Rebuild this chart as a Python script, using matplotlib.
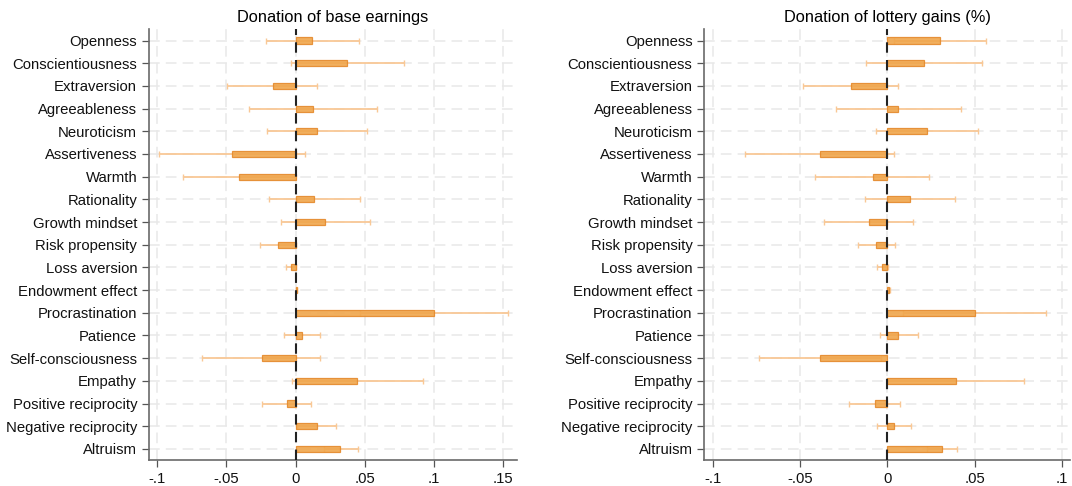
import numpy as np
import matplotlib.pyplot as plt
import matplotlib as mpl

mpl.rc('font', family=['Liberation Sans', 'DejaVu Sans'], size=10.7)

traits = ['Openness', 'Conscientiousness', 'Extraversion', 'Agreeableness',
          'Neuroticism', 'Assertiveness', 'Warmth', 'Rationality',
          'Growth mindset', 'Risk propensity', 'Loss aversion',
          'Endowment effect', 'Procrastination', 'Patience',
          'Self-consciousness', 'Empathy', 'Positive reciprocity',
          'Negative reciprocity', 'Altruism']

# donation of base earnings: coefficient, CI low, CI high
base_coef = [0.0116, 0.0371, -0.0166, 0.0123, 0.0154, -0.0458, -0.0407, 0.0130,
             0.0210, -0.0125, -0.0034, 0.0008, 0.1000, 0.0048, -0.0246, 0.0446,
             -0.0065, 0.0157, 0.0325]
base_lo = [-0.0217, -0.0034, -0.0494, -0.0340, -0.0210, -0.0990, -0.0815, -0.0195,
           -0.0106, -0.0258, -0.0072, 0.0004, 0.0468, -0.0084, -0.0675, -0.0027,
           -0.0246, 0.0010, 0.0205]
base_hi = [0.0456, 0.0783, 0.0157, 0.0586, 0.0520, 0.0070, -0.0005, 0.0465,
           0.0537, 0.0003, 0.0002, 0.0012, 0.1540, 0.0180, 0.0178, 0.0923,
           0.0113, 0.0294, 0.0451]

# donation of lottery gains (%)
lot_coef = [0.0302, 0.0207, -0.0211, 0.0061, 0.0228, -0.0387, -0.0085, 0.0127,
            -0.0108, -0.0063, -0.0030, 0.0008, 0.0501, 0.0063, -0.0386, 0.0393,
            -0.0074, 0.0040, 0.0313]
lot_lo = [0.0038, -0.0123, -0.0486, -0.0294, -0.0063, -0.0819, -0.0418, -0.0127,
          -0.0365, -0.0171, -0.0061, 0.0004, 0.0089, -0.0040, -0.0739, 0.0002,
          -0.0218, -0.0057, 0.0226]
lot_hi = [0.0568, 0.0543, 0.0059, 0.0422, 0.0522, 0.0040, 0.0241, 0.0386,
          0.0144, 0.0042, 0.0002, 0.0012, 0.0912, 0.0173, -0.0034, 0.0783,
          0.0070, 0.0137, 0.0401]

ticks_left = [-0.1, -0.05, 0, 0.05, 0.1, 0.15]
ticklabels_left = ['-.1', '-.05', '0', '.05', '.1', '.15']
ticks_right = [-0.1, -0.05, 0, 0.05, 0.1]
ticklabels_right = ['-.1', '-.05', '0', '.05', '.1']

bar_color = '#F0A64C'
edge_color = '#E58A2C'
ci_color = '#F9C896'
grid_color = '#E8E8E8'


def coefpanel(ax, coef, lo, hi, title, ticks, ticklabels, xlim):
    y = np.arange(len(traits))
    for t in ticks:
        ax.axvline(t, color=grid_color, lw=1.1, dashes=(7, 4), zorder=0)
    for yy in y:
        ax.axhline(yy, color=grid_color, lw=1.1, dashes=(7, 4), zorder=0)
    ax.errorbar(coef, y, xerr=[np.array(coef) - np.array(lo), np.array(hi) - np.array(coef)],
                fmt='none', ecolor=ci_color, elinewidth=1.3, capsize=2.2,
                capthick=1.0, zorder=2)
    ax.barh(y, coef, height=0.27, color=bar_color, edgecolor=edge_color,
            linewidth=0.9, alpha=0.9, zorder=3)
    ax.axvline(0, color='#222222', lw=1.5, dashes=(5, 3.5), zorder=4)
    ax.set_yticks(y)
    ax.set_yticklabels(traits)
    ax.set_ylim(len(traits) - 0.5, -0.5)
    ax.set_xlim(xlim)
    ax.set_xticks(ticks)
    ax.set_xticklabels(ticklabels)
    ax.set_title(title, fontsize=11.8, pad=5)
    for s in ['top', 'right']:
        ax.spines[s].set_visible(False)
    ax.spines['left'].set_color('#6a6a6a')
    ax.spines['bottom'].set_color('#6a6a6a')
    ax.spines['left'].set_linewidth(1.2)
    ax.spines['bottom'].set_linewidth(1.2)
    ax.tick_params(axis='both', color='#555555', length=5, width=0.9,
                   labelcolor='#111111')


fig = plt.figure(figsize=(10.72, 4.86), dpi=100)
ax1 = fig.add_axes([0.139, 0.053, 0.343, 0.887])
ax2 = fig.add_axes([0.657, 0.053, 0.341, 0.887])

coefpanel(ax1, base_coef, base_lo, base_hi, 'Donation of base earnings',
          ticks_left, ticklabels_left, (-0.106, 0.16))
coefpanel(ax2, lot_coef, lot_lo, lot_hi, 'Donation of lottery gains (%)',
          ticks_right, ticklabels_right, (-0.105, 0.1046))

fig.savefig('out.png', dpi=100)
